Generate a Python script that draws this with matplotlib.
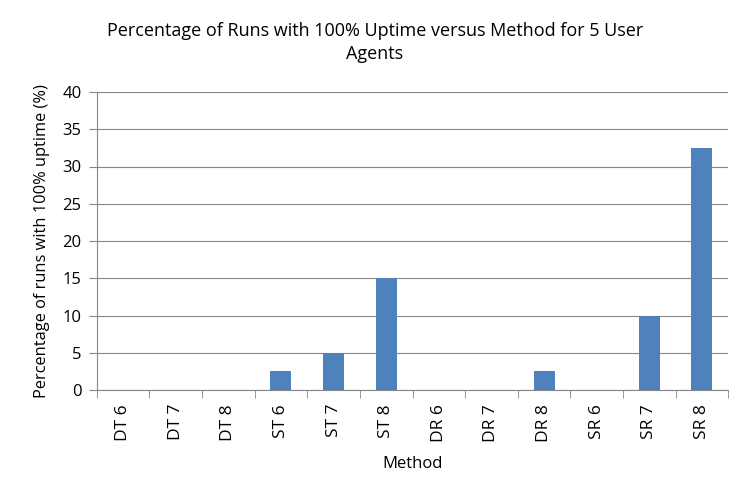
import matplotlib
matplotlib.use("Agg")
import matplotlib.pyplot as plt
import numpy as np

plt.rcParams['font.family'] = ['Open Sans', 'DejaVu Sans']

methods = ['DT 6', 'DT 7', 'DT 8', 'ST 6', 'ST 7', 'ST 8',
           'DR 6', 'DR 7', 'DR 8', 'SR 6', 'SR 7', 'SR 8']
pct_full_uptime = [0, 0, 0, 2.5, 5, 15, 0, 0, 2.5, 0, 10, 32.5]

fig = plt.figure(figsize=(7.5, 5), dpi=100)
ax = fig.add_axes([0.129, 0.22, 0.842, 0.596])

x = np.arange(len(methods))
ax.bar(x, pct_full_uptime, width=0.4, color='#4F81BD', zorder=3)

ax.set_xlim(-0.5, len(methods) - 0.5)
ax.set_ylim(0, 40)
ax.set_yticks(range(0, 41, 5))
ax.yaxis.grid(True, color='#868686', linewidth=0.8, zorder=0)

ax.set_xticks(x)
ax.set_xticklabels(methods, rotation=90, fontsize=12.5)
ax.tick_params(axis='x', length=0, pad=10)
ax.set_xticks(np.arange(-0.5, len(methods), 1), minor=True)
ax.tick_params(axis='x', which='minor', length=6, color='#868686')
ax.tick_params(axis='y', labelsize=12, length=6, color='#868686', pad=5)

for side in ['top', 'right']:
    ax.spines[side].set_visible(False)
for side in ['left', 'bottom']:
    ax.spines[side].set_color('#868686')

ax.set_xlabel('Method', fontsize=12, labelpad=10)
ax.set_ylabel('Percentage of runs with 100% uptime (%)', fontsize=11.8, labelpad=9)
fig.text(0.5, 0.915, 'Percentage of Runs with 100% Uptime versus Method for 5 User\nAgents',
         ha='center', va='center', fontsize=13, linespacing=1.4)

fig.savefig('out.png', dpi=100)
